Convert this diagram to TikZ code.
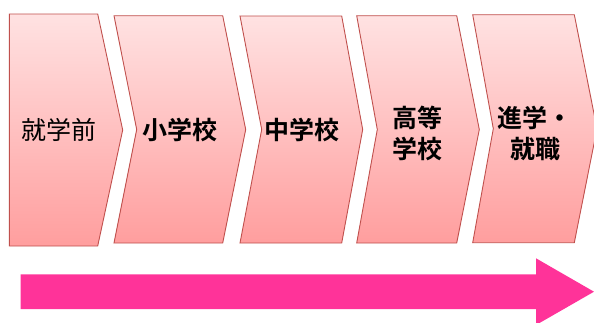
\documentclass[tikz,border=0pt]{standalone}
\usepackage{fontspec}
\newfontfamily\jp{Noto Sans CJK JP}
\newfontfamily\jpb{Noto Sans CJK JP Bold}
\definecolor{topc}{RGB}{255,226,226}
\definecolor{botc}{RGB}{255,158,158}
\definecolor{edgec}{RGB}{192,80,77}
\definecolor{arrowc}{RGB}{255,51,153}
\tikzset{
  chev/.style={top color=topc, bottom color=botc, draw=edgec, line width=0.9pt, line join=miter},
  lbl/.style={font=\jpb\fontsize{25}{31}\selectfont, align=center, inner sep=0pt, text=black},
  lbln/.style={font=\jp\fontsize{25}{31}\selectfont, align=center, inner sep=0pt, text=black}
}
\begin{document}
\begin{tikzpicture}[x=1pt,y=-1pt]
\useasboundingbox (0,0) rectangle (594,322);
% chevrons
\path[chev] (9.3,14) -- (97.7,14) -- (122.7,130) -- (97.7,246) -- (9.3,246) -- cycle;
\path[chev] (114,15.7) -- (222.7,15.7) -- (245.7,129.5) -- (222.7,243) -- (114,243) -- (136.7,129.5) -- cycle;
\path[chev] (240,16) -- (341.7,16) -- (362.7,129.5) -- (341.7,243) -- (240,243) -- (261.7,129.5) -- cycle;
\path[chev] (356.7,15.7) -- (456.7,15.7) -- (479.3,129.5) -- (456.7,243) -- (356.7,243) -- (377.3,129.5) -- cycle;
\path[chev] (472.7,14.7) -- (574.3,14.7) -- (597,128.7) -- (574.3,242.7) -- (472.7,242.7) -- (493.3,128.7) -- cycle;
% labels
\node[lbln] (t1) at (59,130) {就学前};
\node[lbl] (t2) at (179.5,130) {小学校};
\node[lbl] (t3) at (302,130) {中学校};
\node[lbl] (t4) at (417.5,133) {高等\\学校};
\node[lbl] (t5) at (535,133) {進学・\\就職};
% big arrow
\fill[arrowc] (20.7,274.3) -- (536,274.3) -- (536,258.3) -- (594,291.7) -- (536,325) -- (536,309) -- (20.7,309) -- cycle;
\end{tikzpicture}
\end{document}
